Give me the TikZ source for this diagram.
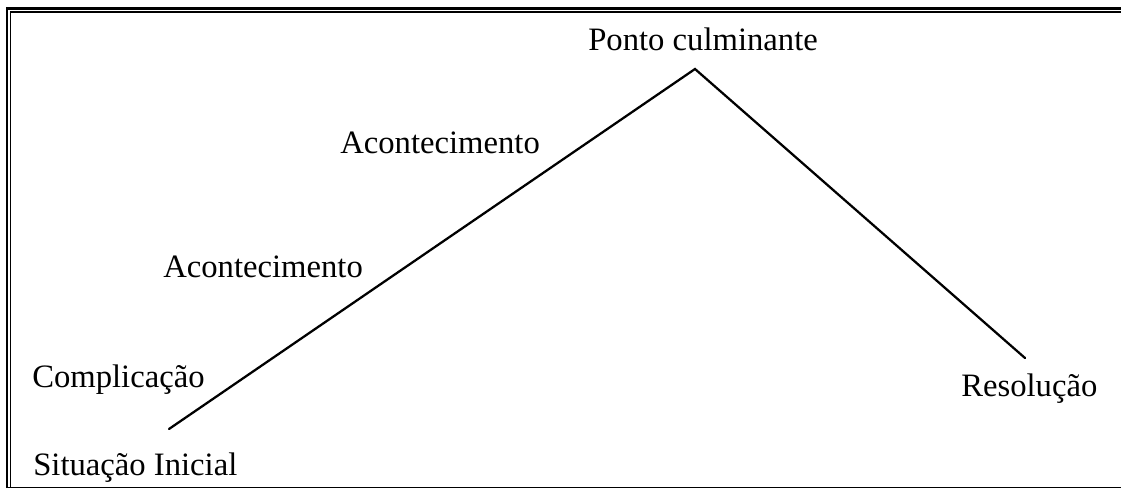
\documentclass[tikz,border=0pt]{standalone}
\usepackage{fontspec}
\setmainfont{Liberation Serif}
\begin{document}
\begin{tikzpicture}[x=0.75pt,y=-0.75pt,
  lbl/.style={inner sep=0pt,font=\fontsize{24.5pt}{29pt}\selectfont},
  thickframe/.style={line width=2pt},
  thinframe/.style={line width=1pt},
  plot/.style={line width=1.7pt,line cap=round,line join=miter}]
\useasboundingbox (0,0) rectangle (1121,489);
% frame
\draw[thickframe] (7,488) -- (7,8.5) -- (1121,8.5);
\draw[thinframe] (10.8,487.5) -- (10.8,12) -- (1121,12);
\draw[thinframe] (6,487.8) -- (1121,487.8);
% line
\coordinate (s) at (169,429);
\coordinate (p) at (695,69);
\coordinate (e) at (1025,358);
\draw[plot] (s) -- (p) -- (e);
% labels
\node[lbl,anchor=base west] (pc) at (588,50) {Ponto culminante};
\node[lbl,anchor=base west] (a1) at (340,153) {Acontecimento};
\node[lbl,anchor=base west] (a2) at (163,277) {Acontecimento};
\node[lbl,anchor=base west] (co) at (32,387) {Complicação};
\node[lbl,anchor=base west] (si) at (33,475) {Situação Inicial};
\node[lbl,anchor=base west] (re) at (961,396) {Resolução};
\end{tikzpicture}
\end{document}
